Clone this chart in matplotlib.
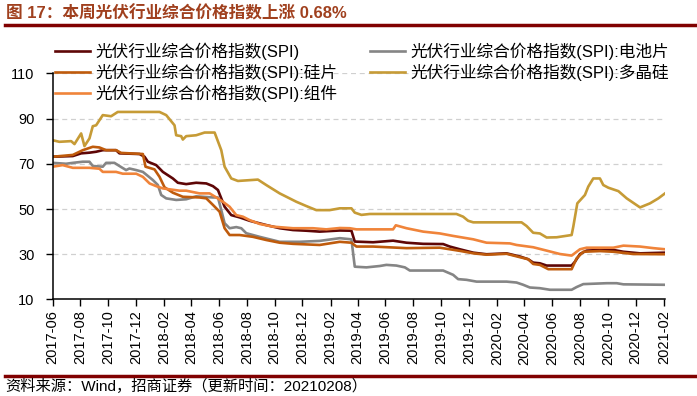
import numpy as np
import pandas as pd
import matplotlib
matplotlib.use('Agg')
from matplotlib import pyplot as plt
import matplotlib.dates as mdates
from matplotlib.lines import Line2D

plt.rcParams['font.family'] = ['Liberation Sans', 'Noto Sans CJK SC', 'DejaVu Sans']

# time axis: months since 2017-06-01
START = '2017-06-01'

t_spi = [0, 1.45, 2.05, 2.65, 3.13, 3.61, 4.57, 4.81, 6.26, 6.62,
         6.86, 7.46, 7.94, 8.66, 9.02, 9.62, 10.34, 11.07, 11.55, 11.91,
         12.15, 12.39, 12.87, 13.47, 14.19, 15.39, 16.36, 17.32, 18.28, 19.24,
         20.69, 21.53, 21.77, 23.09, 24.53, 25.50, 26.70, 28.14, 28.62, 29.34,
         30.31, 31.27, 32.71, 33.67, 34.27, 34.63, 35.11, 35.60, 36.32, 37.40,
         37.64, 38.00, 38.48, 39.44, 40.41, 41.13, 42.33, 44.13]
v_spi = [73.1, 73.4, 74.6, 74.9, 75.3, 76.0, 76.0, 74.6, 74.3, 73.1,
         70.9, 69.4, 66.4, 63.5, 61.6, 61.0, 61.6, 61.3, 60.1, 58.4,
         54.7, 51.0, 47.3, 46.3, 44.8, 42.9, 41.5, 40.7, 40.4, 40.0,
         40.5, 40.4, 35.6, 35.3, 36.0, 35.1, 34.6, 34.5, 33.4, 32.2,
         30.7, 30.0, 30.4, 29.0, 27.8, 26.3, 26.0, 25.0, 25.0, 25.0,
         26.7, 30.1, 31.6, 31.9, 31.9, 31.1, 30.4, 30.7]

t_cell = [0, 0.96, 1.45, 2.17, 2.65, 2.89, 3.61, 3.85, 4.45, 4.81,
          5.29, 5.53, 6.02, 6.50, 7.22, 7.58, 7.82, 8.18, 8.90, 9.62,
          10.34, 11.55, 11.91, 12.15, 12.39, 12.75, 13.23, 13.59, 13.95, 14.91,
          16.36, 17.80, 19.24, 20.69, 21.53, 21.77, 22.61, 23.57, 24.05, 24.77,
          25.38, 25.74, 26.70, 28.14, 28.86, 29.22, 29.82, 30.55, 32.71, 33.43,
          33.91, 34.39, 35.11, 35.84, 37.40, 37.76, 38.24, 39.93, 40.65, 41.13,
          44.13]
v_cell = [70.4, 70.0, 70.4, 70.9, 70.9, 69.0, 68.7, 70.4, 70.4, 69.0,
          67.2, 67.9, 67.2, 66.4, 62.8, 60.6, 56.2, 54.7, 54.0, 54.3,
          55.6, 55.1, 55.1, 49.5, 43.7, 41.5, 42.0, 41.5, 39.3, 37.7,
          35.5, 35.5, 35.9, 37.1, 36.6, 24.5, 24.2, 24.8, 25.3, 25.0,
          24.2, 22.8, 22.8, 22.8, 20.9, 19.0, 18.7, 17.9, 17.9, 17.5,
          16.5, 15.3, 15.0, 14.3, 14.3, 15.5, 16.8, 17.2, 17.2, 16.7,
          16.5]

t_wafer = [0, 1.45, 2.17, 2.89, 3.37, 3.85, 4.57, 4.93, 6.50, 6.69,
           7.34, 7.70, 8.06, 8.66, 9.38, 10.58, 11.07, 11.55, 12.03, 12.39,
           12.75, 13.47, 14.43, 15.39, 16.36, 17.32, 19.24, 19.96, 20.69, 21.53,
           21.89, 23.09, 25.50, 27.90, 28.62, 29.34, 30.31, 31.27, 32.71, 33.67,
           34.27, 34.63, 35.11, 35.72, 37.40, 37.76, 38.24, 39.44, 40.41, 41.85,
           44.13]
v_wafer = [73.1, 73.9, 76.0, 77.5, 77.2, 76.0, 76.0, 74.8, 74.3, 68.7,
           67.5, 64.2, 59.6, 57.2, 55.4, 55.1, 54.7, 51.8, 48.8, 41.5,
           38.5, 38.5, 37.7, 36.3, 35.1, 34.6, 34.1, 34.8, 35.5, 35.1,
           33.4, 33.4, 32.7, 32.9, 32.2, 31.5, 30.4, 29.8, 30.2, 28.7,
           27.8, 25.7, 25.3, 23.4, 23.4, 28.2, 31.1, 31.4, 31.1, 30.1,
           30.0]

t_poly = [0, 0.48, 1.33, 1.57, 2.05, 2.29, 2.65, 2.89, 3.13, 3.61,
          4.21, 4.69, 7.70, 8.18, 8.78, 8.90, 9.26, 9.38, 9.62, 10.34,
          10.95, 11.67, 12.15, 12.39, 12.87, 13.35, 14.79, 15.39, 16.36, 17.56,
          18.28, 19.00, 19.96, 20.69, 21.53, 21.77, 22.25, 22.85, 29.10, 29.58,
          29.94, 30.31, 33.79, 34.15, 34.63, 35.11, 35.60, 36.32, 37.40, 37.52,
          37.81, 38.36, 38.60, 38.96, 39.44, 39.68, 40.05, 40.77, 41.37, 42.33,
          43.05, 43.65, 44.13]
v_poly = [80.4, 79.7, 80.0, 78.7, 83.4, 77.8, 81.2, 86.6, 87.0, 91.5,
          91.0, 92.9, 92.9, 91.5, 87.0, 82.6, 82.2, 80.7, 82.2, 82.6,
          83.8, 83.8, 76.0, 68.7, 63.5, 62.4, 63.0, 60.6, 56.9, 53.2,
          51.3, 49.5, 49.5, 50.3, 50.3, 48.4, 47.4, 47.8, 47.8, 46.6,
          44.8, 44.1, 44.1, 42.5, 39.5, 39.2, 37.4, 37.5, 38.5, 42.2,
          52.5, 56.2, 59.9, 63.5, 63.5, 60.6, 59.4, 57.9, 54.7, 50.7,
          52.5, 54.7, 56.9]

t_module = [0, 0.72, 1.45, 2.65, 3.37, 3.61, 4.57, 5.05, 6.02, 6.50,
            6.98, 7.46, 7.94, 9.14, 9.62, 10.58, 11.31, 11.79, 12.27, 12.75,
            13.23, 13.71, 14.19, 14.91, 15.88, 17.32, 18.76, 19.72, 20.69, 21.41,
            21.89, 24.53, 24.73, 25.50, 26.70, 27.90, 28.86, 30.31, 31.27, 32.95,
            33.43, 34.63, 35.60, 36.56, 37.40, 38.00, 38.48, 40.41, 41.13, 42.33,
            43.29, 44.13]
v_module = [68.7, 69.4, 68.2, 68.2, 67.8, 66.4, 66.4, 65.6, 65.6, 64.2,
            61.3, 60.1, 59.1, 58.1, 58.1, 56.9, 56.9, 55.1, 53.2, 51.0,
            47.3, 46.6, 45.1, 43.4, 42.2, 41.5, 41.5, 41.0, 41.6, 41.5,
            41.0, 41.0, 42.8, 41.5, 40.0, 39.2, 38.1, 36.6, 35.1, 34.8,
            34.1, 33.1, 31.6, 30.1, 29.4, 32.2, 32.9, 32.9, 33.8, 33.4,
            32.7, 32.2]

labels = ['光伏行业综合价格指数(SPI)',
          '光伏行业综合价格指数(SPI):电池片',
          '光伏行业综合价格指数(SPI):硅片',
          '光伏行业综合价格指数(SPI):多晶硅',
          '光伏行业综合价格指数(SPI):组件']
colors = ['#5E0606', '#858585', '#BF5B0C', '#C69B36', '#F0843A']
y_ticks = [10, 30, 50, 70, 90, 110]


def to_dates(t):
    return pd.Timestamp(START) + pd.to_timedelta(np.array(t) * 30.44, unit='D')


series = [(t_spi, v_spi), (t_cell, v_cell), (t_wafer, v_wafer),
          (t_poly, v_poly), (t_module, v_module)]

fig = plt.figure(figsize=(6.97, 3.96), dpi=100)
ax = fig.add_axes([0.0756, 0.2437, 0.8785, 0.5713])

handles = []
for (t, v), lab, c in zip(series, labels, colors):
    h, = ax.plot(to_dates(t), v, color=c, lw=1.9, label=lab, solid_joinstyle='round')
    handles.append(h)

ax.set_ylim(10, 110)
ax.set_yticks(y_ticks)
ax.set_xlim(pd.Timestamp(START), to_dates([t_spi[-1]])[0])
ax.xaxis.set_major_locator(mdates.MonthLocator(bymonth=[2, 4, 6, 8, 10, 12]))
ax.xaxis.set_major_formatter(mdates.DateFormatter('%Y-%m'))
for lbl in ax.get_xticklabels():
    lbl.set_rotation(90)

ax.tick_params(axis='both', labelsize=10.5, colors='black', length=5, width=1,
               direction='out')
ax.tick_params(axis='y', pad=8)
ax.tick_params(axis='x', pad=3)
ax.yaxis.grid(True, color='#D0D0D0', linestyle=(0, (4, 3)), lw=0.9)
ax.set_axisbelow(True)
for s in ['top', 'right']:
    ax.spines[s].set_visible(False)
for s in ['left', 'bottom']:
    ax.spines[s].set_linewidth(1.1)

# legend: left column SPI / 硅片 / 组件, right column 电池片 / 多晶硅
order = [0, 2, 4, 1, 3]
leg = fig.legend([handles[i] for i in order], [labels[i] for i in order],
                 ncol=2, loc='upper left', bbox_to_anchor=(0.079, 0.892),
                 frameon=False, fontsize=12, handlelength=2.1,
                 handletextpad=0.3, columnspacing=2.0, labelspacing=0.22,
                 borderpad=0, borderaxespad=0)

# title and source
fig.text(0.008, 0.967, '图 17：本周光伏行业综合价格指数上涨 0.68%', fontsize=12,
         fontweight='bold', color='#A0401E', va='center', ha='left')
fig.add_artist(Line2D([0.007, 1.0], [0.937, 0.937], color='#800000', lw=2.5))
fig.add_artist(Line2D([0.007, 1.0], [0.051, 0.051], color='#800000', lw=2.5))
fig.text(0.008, 0.024, '资料来源：Wind，招商证券（更新时间：20210208）', fontsize=11,
         color='black', va='center', ha='left')

fig.savefig('out.png', dpi=100)
